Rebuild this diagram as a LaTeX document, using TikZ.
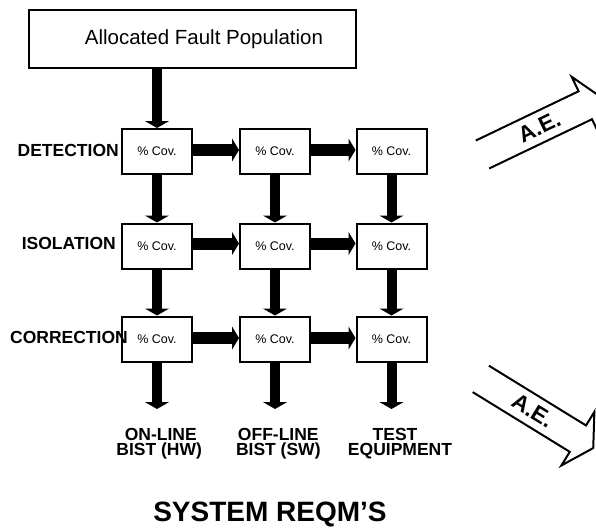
\documentclass[tikz,border=0pt]{standalone}
\usepackage{fontspec}
\setmainfont{Liberation Sans}
\usetikzlibrary{arrows.meta}

\begin{document}
\begin{tikzpicture}[x=1pt,y=-1pt,
  box/.style={draw, line width=2pt, minimum width=70pt, minimum height=45pt,
    inner sep=0pt, font=\fontsize{12.5}{14}\selectfont},
  rowlabel/.style={anchor=base east, inner sep=0pt,
    font=\fontsize{17.5}{18}\selectfont\bfseries},
  outlabel/.style={anchor=base, inner sep=0pt,
    font=\fontsize{17.5}{18}\selectfont\bfseries},
  flowv/.style={line width=10pt, -{Triangle[width=24pt,length=7pt]}},
  flowh/.style={line width=12pt, -{Triangle[width=23pt,length=7pt]}},
  hollow/.style={line width=2pt, line join=miter},
  aelabel/.style={inner sep=0pt, font=\fontsize{22.5}{24}\selectfont\bfseries},
]
\useasboundingbox (0,0) rectangle (596,527);

% fault population source
\node[draw, line width=2pt, minimum width=327pt, minimum height=58pt,
      inner sep=0pt] (pop) at (192.5,39) {};
\node[anchor=base, inner sep=0pt, font=\fontsize{20.5}{22}\selectfont]
      (poptext) at (204,45) {Allocated Fault Population};

% coverage matrix
\node[box] (d1) at (157,151.5) {\% Cov.};
\node[box] (d2) at (275,151.5) {\% Cov.};
\node[box] (d3) at (391.5,151.5) {\% Cov.};
\node[box] (i1) at (157,246) {\% Cov.};
\node[box] (i2) at (275,246) {\% Cov.};
\node[box] (i3) at (391.5,246) {\% Cov.};
\node[box] (c1) at (157,339) {\% Cov.};
\node[box] (c2) at (275,339) {\% Cov.};
\node[box] (c3) at (391.5,339) {\% Cov.};

% row labels
\node[rowlabel] (det) at (119,156) {DETECTION};
\node[rowlabel] (iso) at (116,249.3) {ISOLATION};
\node[rowlabel] (cor) at (128,343.3) {CORRECTION};

% downward flow
\draw[flowv] (pop.south -| d1) -- (d1.north);
\draw[flowv] (d1.south) -- (i1.north);
\draw[flowv] (d2.south) -- (i2.north);
\draw[flowv] (d3.south) -- (i3.north);
\draw[flowv] (i1.south) -- (c1.north);
\draw[flowv] (i2.south) -- (c2.north);
\draw[flowv] (i3.south) -- (c3.north);

\coordinate (e1) at (157,409);
\coordinate (e2) at (275,409);
\coordinate (e3) at (391.5,409);
\draw[flowv] (c1.south) -- (e1);
\draw[flowv] (c2.south) -- (e2);
\draw[flowv] (c3.south) -- (e3);

% sideways flow
\draw[flowh] ([yshift=1.5pt]d1.east) -- ([yshift=1.5pt]d2.west);
\draw[flowh] ([yshift=1.5pt]d2.east) -- ([yshift=1.5pt]d3.west);
\draw[flowh] ([yshift=2.5pt]i1.east) -- ([yshift=2.5pt]i2.west);
\draw[flowh] ([yshift=2.5pt]i2.east) -- ([yshift=2.5pt]i3.west);
\draw[flowh] ([yshift=1pt]c1.east) -- ([yshift=1pt]c2.west);
\draw[flowh] ([yshift=1pt]c2.east) -- ([yshift=1pt]c3.west);

% outputs
\node[outlabel] (on1) at (160.8,440) {ON-LINE};
\node[outlabel] (on2) at (159.2,455) {BIST (HW)};
\node[outlabel] (off1) at (278.3,440) {OFF-LINE};
\node[outlabel] (off2) at (278.3,455) {BIST (SW)};
\node[outlabel] (te1) at (395,440) {TEST};
\node[outlabel] (te2) at (400,455) {EQUIPMENT};

\node[anchor=base, inner sep=0pt, font=\fontsize{28}{30}\selectfont\bfseries]
      (sys) at (270,521) {SYSTEM REQM’S};

% A.E. outline arrows
\begin{scope}[shift={(482.5,154.5)}, rotate=25.6]
  \draw[hollow] (0,-15.5) -- (114,-15.5) -- (114,-31.5) -- (132,0)
                -- (114,31.5) -- (114,15.5) -- (0,15.5);
  \node[aelabel, rotate=25.6] (aeup) at (63,0) {A.E.};
\end{scope}
\begin{scope}[shift={(480.8,378.9)}, rotate=-31.6]
  \draw[hollow] (0,-15.5) -- (114,-15.5) -- (114,-31.5) -- (132,0)
                -- (114,31.5) -- (114,15.5) -- (0,15.5);
  \node[aelabel, rotate=-31.6] (aedown) at (61,0) {A.E.};
\end{scope}
\end{tikzpicture}
\end{document}
